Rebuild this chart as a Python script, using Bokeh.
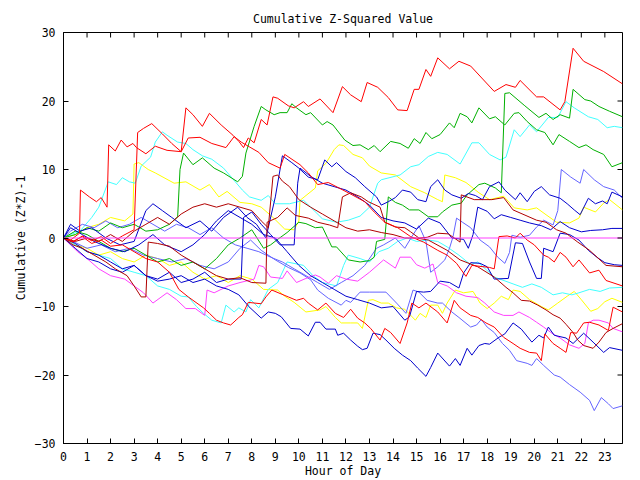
import math
from bokeh.plotting import figure
from bokeh.models import FixedTicker
from bokeh.embed import file_html
from bokeh.resources import INLINE

# ---- data: (hour, cumulative value) vertices ----
hour_ticks = list(range(0, 24))
value_ticks = [-30, -20, -10, 0, 10, 20, 30]

red_top = [(0,0),(0.4,-0.6),(0.8,0.3),(1.2,-0.4),(1.6,0.2),(2.0,-0.8),(2.5,0.3),(3.0,1.2),(3.15,15.4),(3.4,16.0),(3.75,16.7),(4.2,15.2),(4.6,13.8),(5.0,12.6),(5.2,19.0),(5.5,18.0),(5.9,16.3),(6.2,18.2),(6.7,16.5),(7.2,15.0),(7.45,14.1),(7.65,13.2),(7.85,14.6),(8.1,13.9),(8.4,17.3),(8.65,16.5),(8.9,20.6),(9.1,20.4),(9.55,19.3),(9.8,19.0),(10.2,19.9),(10.4,19.2),(10.9,20.3),(11.45,18.3),(11.85,22.1),(12.2,20.9),(12.65,19.9),(12.9,22.7),(13.35,22.0),(13.8,20.5),(14.2,18.7),(14.6,18.6),(14.9,21.7),(15.1,21.7),(15.4,24.6),(15.6,23.6),(15.9,26.3),(16.4,24.7),(16.8,25.8),(17.3,25.1),(18.3,21.4),(18.8,22.4),(19.2,22.0),(19.4,23.0),(20.1,20.6),(20.4,20.6),(21.1,18.7),(21.3,19.9),(21.65,27.7),(22.1,25.8),(22.95,24.3),(23.75,22.5)]

red_mid = [(0,0),(0.3,-0.3),(0.68,0.7),(0.72,7.0),(1.1,6.0),(1.4,5.3),(1.6,5.9),(1.85,4.5),(1.92,13.6),(2.2,12.7),(2.45,14.3),(2.7,13.3),(2.95,13.8),(3.1,13.2),(3.5,12.3),(3.9,13.4),(4.4,12.8),(5.0,12.6),(5.3,14.6),(5.8,14.7),(6.3,13.8),(6.9,13.2),(7.25,14.8),(7.55,14.0),(7.9,13.3),(8.3,12.5),(8.7,11.0),(9.2,10.2),(9.4,12.2),(10.05,10.7),(10.4,9.5),(10.8,7.8),(11.25,8.1),(12.1,6.6),(12.8,5.3),(13.2,3.8),(13.65,2.3),(14.2,1.5),(14.75,0.2),(15.3,-0.6),(15.5,-1.0),(15.9,-1.8),(16.3,-2.5),(16.7,-3.7),(17.1,-5.6),(17.35,-4.0),(18.1,-4.3),(18.3,-4.5),(18.5,0.2),(18.85,0.3),(19.2,0.0),(19.4,0.7),(19.7,-0.3),(20.0,-1.0),(20.4,-2.5),(20.6,-2.8),(20.85,-3.5),(21.1,-2.1),(21.35,-2.8),(21.65,-4.2),(21.9,-3.2),(22.35,-5.1),(22.75,-4.7),(23.05,-6.2),(23.75,-7.0)]

red_low = [(0,0),(0.4,-0.5),(0.8,0.2),(1.2,-0.8),(1.6,-0.3),(2.0,-1.2),(2.5,-1.0),(3.0,-2.0),(3.5,-3.0),(4.0,-3.5),(4.5,-5.0),(4.9,-7.5),(5.3,-8.6),(5.95,-10.2),(6.2,-11.0),(6.5,-12.0),(6.8,-12.4),(7.1,-12.7),(7.2,-12.4),(7.45,-11.6),(7.6,-11.2),(7.85,-9.4),(8.4,-9.6),(8.6,-8.6),(8.85,-7.6),(9.55,-8.6),(9.9,-9.1),(10.2,-8.8),(10.4,-9.5),(10.8,-10.5),(11.15,-9.5),(11.55,-11.0),(11.9,-11.6),(12.2,-10.4),(12.5,-11.7),(12.8,-12.4),(13.05,-13.2),(13.45,-14.9),(13.65,-13.2),(13.9,-13.8),(14.3,-15.4),(14.6,-12.4),(14.8,-9.5),(15.1,-10.2),(15.4,-9.5),(15.9,-10.8),(16.3,-12.4),(16.6,-9.1),(16.85,-10.2),(17.3,-11.3),(17.6,-11.6),(17.95,-12.4),(18.3,-13.0),(18.7,-14.5),(19.1,-15.4),(19.4,-16.1),(19.8,-16.7),(20.1,-16.8),(20.3,-17.9),(20.45,-14.0),(20.8,-15.4),(21.1,-16.1),(21.35,-16.7),(21.55,-13.8),(21.8,-13.9),(22.1,-12.4),(22.35,-12.3),(22.75,-12.7),(23.15,-13.5),(23.35,-10.1),(23.75,-10.8)]

green_a = [(0,0),(0.5,0.5),(1.0,1.5),(1.5,1.0),(2.0,2.2),(2.5,1.5),(3.0,2.0),(3.5,1.0),(4.0,1.2),(4.5,2.0),(4.85,3.1),(4.95,10.0),(5.1,12.4),(5.5,10.7),(5.9,11.7),(6.4,10.2),(6.8,9.5),(7.4,8.2),(7.6,9.0),(7.75,12.4),(8.1,16.3),(8.4,19.2),(8.6,18.7),(8.95,18.0),(9.2,18.3),(9.5,18.3),(9.7,19.6),(9.9,19.0),(10.3,18.0),(10.5,18.3),(11.0,16.5),(11.2,17.0),(11.45,16.5),(11.95,14.3),(12.3,13.5),(12.6,13.6),(12.95,12.9),(13.2,13.5),(13.45,12.6),(13.9,14.1),(14.3,13.8),(14.65,13.1),(14.9,14.5),(15.15,13.8),(15.4,15.4),(15.65,14.5),(16.0,15.1),(16.4,16.8),(16.6,16.1),(16.85,18.2),(17.15,17.7),(17.35,16.8),(17.65,19.0),(18.1,17.4),(18.35,17.7),(18.75,16.5),(19.15,18.2),(19.35,18.3),(19.7,17.0),(20.1,15.8),(20.45,15.4),(20.8,13.6),(21.05,15.1),(21.5,14.1),(21.9,13.2),(22.2,13.6),(22.5,12.9),(22.95,12.2),(23.3,10.4),(23.75,11.0)]

green_b = [(0,0),(0.5,1.0),(1.0,0.5),(1.5,-0.5),(2.0,-1.5),(2.5,-2.0),(3.0,-1.5),(3.5,-2.5),(4.0,-3.5),(4.5,-3.0),(5.0,-4.0),(5.5,-3.5),(6.0,-4.5),(6.5,-3.0),(7.0,-1.0),(7.5,0.0),(8.0,1.2),(8.5,-1.5),(8.8,-1.0),(9.1,-0.2),(9.5,0.8),(10.0,2.3),(10.3,2.1),(10.7,1.5),(11.0,1.6),(11.4,-1.3),(11.6,-1.3),(12.1,-3.2),(12.6,-3.5),(13.0,-3.3),(13.2,-2.8),(13.3,-0.5),(13.65,-0.2),(13.8,6.0),(14.1,5.2),(14.4,4.8),(14.7,4.1),(15.1,4.1),(15.5,3.1),(15.9,3.1),(16.1,3.8),(16.5,4.8),(16.9,5.1),(17.15,6.3),(17.65,7.8),(17.9,8.0),(18.35,7.3),(18.6,6.6),(18.75,21.1),(18.95,21.2),(19.6,19.3),(20.2,17.6),(20.5,18.2),(20.8,17.3),(21.1,18.0),(21.5,17.5),(21.65,21.7),(22.15,20.2),(22.4,20.0),(22.75,19.2),(23.2,18.5),(23.75,17.7)]

cyan_a = [(0,0),(0.3,0.5),(0.7,1.0),(1.2,3.0),(1.5,4.5),(1.9,8.2),(2.25,7.8),(2.5,8.8),(2.8,8.2),(3.05,8.0),(3.3,10.5),(3.7,11.8),(3.9,14.0),(4.2,15.5),(4.4,15.0),(4.85,14.0),(5.2,13.8),(5.5,12.9),(5.9,12.0),(6.3,11.5),(6.8,10.2),(7.3,8.2),(7.6,7.0),(7.9,6.0),(8.4,5.5),(8.7,6.2),(9.0,5.0),(9.6,5.0),(10.2,5.5),(10.5,4.5),(11.0,2.8),(11.6,2.3),(12.1,2.6),(12.6,3.2),(13.0,4.5),(13.35,8.0),(13.5,8.5),(14.3,9.2),(14.75,10.4),(15.1,10.7),(15.5,11.9),(15.9,12.5),(16.3,12.2),(16.85,10.8),(17.35,13.9),(17.65,13.9),(18.1,12.2),(18.55,11.4),(18.8,11.8),(19.15,15.8),(19.4,14.8),(19.8,16.5),(20.1,15.5),(20.6,17.6),(21.0,17.6),(21.35,19.9),(21.7,19.0),(22.3,17.7),(22.7,17.3),(23.1,16.1),(23.4,16.3),(23.75,16.1)]

cyan_b = [(0,0),(0.5,-1.0),(1.0,-2.0),(1.5,-2.5),(2.0,-3.0),(2.5,-4.5),(3.0,-5.0),(3.5,-5.5),(4.0,-7.0),(4.5,-7.5),(5.0,-8.5),(5.3,-8.6),(5.65,-10.0),(5.95,-11.0),(6.3,-12.0),(6.7,-12.4),(6.9,-9.8),(7.25,-10.8),(7.45,-10.2),(7.75,-10.8),(7.95,-9.0),(8.3,-10.2),(8.7,-7.5),(9.1,-6.5),(9.5,-3.5),(10.2,-4.0),(10.6,-5.5),(11.0,-6.5),(11.6,-7.0),(11.9,-4.0),(12.1,-2.5),(12.6,-3.0),(13.0,-3.5),(13.4,-2.0),(13.8,-1.5),(14.2,-0.5),(14.6,0.0),(15.0,-0.5),(15.5,-0.3),(15.9,-0.5),(16.3,-1.3),(16.8,-2.5),(17.3,-3.9),(17.6,-3.5),(18.3,-5.7),(19.1,-6.7),(19.5,-7.2),(19.9,-6.7),(20.3,-7.2),(20.8,-8.3),(21.2,-8.0),(21.6,-8.3),(21.9,-8.0),(22.35,-7.5),(22.8,-7.8),(23.2,-7.3),(23.75,-7.2)]

yellow_a = [(0,0),(0.5,0.5),(1.0,1.5),(1.5,2.0),(2.0,3.0),(2.6,2.5),(2.95,3.5),(3.0,10.8),(3.2,11.0),(3.6,10.0),(3.9,9.5),(4.7,8.0),(5.2,8.2),(5.8,7.0),(6.2,7.8),(6.6,6.0),(6.95,6.8),(7.5,5.2),(8.0,5.0),(8.4,4.5),(8.9,3.0),(9.4,1.3),(9.8,1.2),(10.0,2.5),(10.05,5.5),(10.7,7.3),(10.8,9.8),(11.15,10.9),(11.5,12.9),(11.7,13.6),(11.9,13.5),(12.3,12.2),(12.7,11.7),(13.0,10.5),(13.5,9.5),(14.1,9.2),(14.75,7.5),(15.35,6.6),(15.9,5.6),(16.1,5.3),(16.2,9.2),(16.65,8.8),(17.1,8.1),(17.65,6.6),(18.1,5.6),(18.7,6.1),(19.15,4.4),(19.7,4.1),(20.1,4.4),(20.5,3.4),(20.95,2.3),(21.5,2.2),(21.9,2.9),(22.1,4.5),(22.6,3.8),(22.95,5.1),(23.2,5.6),(23.75,4.1)]

yellow_b = [(0,0),(0.5,-1.0),(1.0,-1.5),(1.5,-2.5),(2.0,-2.0),(2.5,-3.0),(3.0,-3.5),(3.5,-2.5),(4.0,-3.0),(4.5,-4.0),(5.0,-3.5),(5.5,-5.0),(6.0,-6.0),(6.5,-5.5),(7.0,-6.5),(7.5,-5.5),(8.0,-6.0),(8.5,-7.5),(9.1,-7.6),(9.4,-8.5),(9.8,-9.4),(10.3,-10.8),(10.9,-10.5),(11.15,-10.0),(11.55,-11.6),(11.8,-12.4),(12.2,-12.4),(12.5,-12.4),(12.7,-13.2),(12.95,-9.1),(13.15,-9.0),(13.5,-9.5),(13.8,-9.5),(14.15,-10.2),(14.5,-10.4),(14.95,-12.0),(15.15,-11.0),(15.4,-11.6),(15.6,-9.8),(15.9,-9.8),(16.1,-11.0),(16.3,-9.5),(16.65,-7.6),(17.0,-8.0),(17.4,-7.8),(17.7,-9.5),(18.0,-10.3),(18.3,-9.5),(18.6,-8.5),(18.9,-9.0),(19.1,-7.6),(19.4,-7.8),(19.8,-9.0),(20.3,-10.0),(20.6,-10.5),(21.0,-9.5),(21.4,-8.5),(21.7,-7.8),(22.0,-9.0),(22.4,-10.7),(22.7,-10.3),(23.0,-9.3),(23.3,-8.8),(23.75,-9.4)]

blue_a = [(0,0),(0.3,2.0),(0.7,1.0),(1.2,1.5),(1.8,0.0),(2.4,-1.0),(3.0,-0.5),(3.5,4.0),(3.8,5.0),(4.2,4.0),(4.6,3.0),(5.2,1.5),(5.8,2.5),(6.3,1.0),(6.8,3.0),(7.4,4.5),(7.8,3.0),(8.2,2.0),(8.6,0.0),(9.0,6.0),(9.3,12.0),(9.7,11.0),(10.0,10.2),(10.4,8.9),(10.8,8.5),(11.1,11.4),(11.4,10.4),(11.6,11.0),(12.0,9.7),(12.4,8.8),(12.8,7.5),(13.3,6.0),(13.5,4.8),(13.8,5.3),(14.1,5.9),(14.4,7.0),(14.75,6.7),(15.05,5.6),(15.4,5.3),(15.6,7.5),(15.9,8.5),(16.2,7.0),(16.5,6.3),(16.9,5.8),(17.2,6.5),(17.5,6.2),(17.8,5.6),(18.1,7.5),(18.5,8.2),(18.75,7.0),(19.2,5.6),(19.4,6.6),(19.7,5.3),(20.0,6.8),(20.3,7.5),(20.65,6.3),(21.1,5.8),(21.4,5.0),(21.7,4.1),(21.95,3.4),(22.3,5.8),(22.6,5.0),(22.9,5.4),(23.1,5.0),(23.3,6.7),(23.75,6.0)]

blue_b = [(0,0),(0.5,-1.5),(1.0,-3.0),(1.5,-3.5),(2.0,-4.5),(2.5,-5.0),(3.0,-4.0),(3.5,-5.5),(4.0,-6.0),(4.5,-5.0),(5.0,-6.5),(5.5,-6.0),(6.0,-5.0),(6.5,-6.5),(7.0,-6.0),(7.55,-6.0),(7.65,3.0),(8.0,3.8),(8.4,2.0),(8.8,0.5),(9.2,-1.0),(9.8,-1.0),(9.95,8.0),(10.05,10.2),(10.5,9.0),(11.0,8.0),(11.5,7.5),(12.0,7.0),(12.5,6.0),(13.0,4.8),(13.5,3.0),(14.0,2.5),(14.5,2.2),(15.0,1.3),(15.5,2.9),(16.0,2.2),(16.5,0.0),(17.0,-0.2),(17.2,-1.5),(17.4,0.5),(17.6,4.5),(18.0,3.9),(18.3,2.8),(18.6,3.4),(19.0,3.0),(19.4,2.6),(19.8,2.2),(20.3,1.8),(20.7,1.2),(21.1,2.4),(21.5,1.5),(22.0,0.9),(22.4,1.1),(22.9,1.2),(23.3,1.4),(23.75,1.4)]

blue_c = [(0,0),(0.3,1.5),(0.8,0.5),(1.3,-0.5),(2.0,-1.5),(2.6,-2.0),(3.2,-1.0),(3.8,0.5),(4.3,-1.0),(5.0,-2.0),(5.5,-1.0),(6.0,0.5),(6.5,2.5),(7.0,4.0),(7.5,3.0),(8.0,2.0),(8.5,0.5),(9.0,0.0),(9.5,-2.0),(10.0,-4.0),(10.5,-5.5),(11.0,-6.5),(11.5,-7.5),(12.0,-8.5),(12.5,-9.0),(13.0,-9.5),(13.5,-10.2),(14.0,-10.0),(14.5,-12.0),(14.7,-11.5),(15.0,-7.8),(15.3,-7.9),(15.6,-7.8),(16.0,-6.3),(16.4,-6.5),(16.8,-7.3),(17.0,-5.1),(17.3,-3.6),(17.7,-3.7),(18.0,-4.2),(18.3,-6.0),(18.9,-5.9),(19.2,-0.7),(19.5,-0.8),(19.8,-3.5),(20.1,-5.9),(20.3,-5.9),(20.4,-1.5),(20.8,-2.0),(21.1,0.7),(21.5,0.5),(21.9,-0.3),(22.3,-1.8),(22.7,-2.9),(23.0,-3.6),(23.4,-3.9),(23.75,-4.0)]

blue_d = [(0,0),(0.5,-0.8),(1.0,-2.0),(1.5,-2.5),(2.0,-3.5),(2.5,-4.5),(3.0,-4.0),(3.5,-5.5),(4.0,-6.3),(4.5,-6.0),(5.0,-5.5),(5.5,-6.5),(6.0,-6.0),(6.5,-7.0),(7.0,-7.5),(7.45,-8.3),(7.87,-10.0),(8.4,-11.7),(8.7,-10.8),(9.0,-11.0),(9.25,-11.5),(9.65,-13.2),(10.05,-13.3),(10.4,-14.3),(10.7,-12.3),(10.9,-12.3),(11.15,-13.3),(11.55,-13.3),(11.65,-14.2),(11.9,-13.9),(12.2,-14.9),(12.5,-15.8),(12.7,-16.3),(12.9,-16.1),(13.15,-13.9),(13.45,-14.1),(13.7,-14.9),(14.05,-16.1),(14.4,-17.1),(14.75,-17.9),(15.05,-19.0),(15.4,-20.2),(15.6,-18.9),(15.9,-16.8),(16.4,-18.7),(16.65,-17.6),(16.85,-18.6),(17.15,-16.1),(17.35,-17.1),(17.65,-15.7),(17.9,-15.4),(18.1,-15.5),(18.5,-14.5),(18.75,-14.0),(19.1,-12.4),(19.45,-13.3),(19.9,-15.2),(20.2,-14.2),(20.4,-14.6),(20.6,-13.0),(20.85,-14.2),(21.35,-14.6),(21.65,-15.4),(22.1,-13.9),(22.5,-15.2),(22.95,-16.7),(23.2,-16.0),(23.75,-16.4)]

lblue_a = [(0,0),(0.4,-0.5),(1.0,-1.5),(1.6,-1.0),(2.2,-2.0),(2.8,-1.5),(3.4,-2.5),(4.0,-3.0),(4.6,-3.5),(5.2,-3.0),(5.8,-4.0),(6.4,-4.5),(7.0,-3.5),(7.5,-1.5),(7.95,-0.3),(8.4,-1.8),(9.0,-3.2),(9.55,-4.3),(10.05,-5.1),(10.5,-6.1),(10.8,-7.6),(11.25,-8.8),(11.8,-9.8),(12.0,-9.1),(12.2,-9.4),(12.6,-7.9),(13.0,-7.9),(13.7,-7.9),(14.15,-9.5),(14.55,-11.0),(14.85,-7.6),(15.1,-7.9),(15.45,-9.1),(15.9,-9.5),(16.1,-9.5),(16.5,-10.8),(16.8,-11.6),(17.3,-13.0),(17.55,-12.7),(17.75,-11.9),(18.0,-13.0),(18.3,-13.8),(18.65,-15.4),(18.95,-16.4),(19.25,-17.9),(19.7,-18.3),(19.9,-18.6),(20.1,-17.6),(20.4,-18.6),(20.85,-20.0),(21.1,-20.3),(21.5,-21.4),(21.95,-22.5),(22.35,-23.7),(22.55,-25.2),(22.85,-23.3),(23.15,-24.2),(23.35,-24.9),(23.75,-24.5)]

lblue_b = [(0,0),(0.3,1.0),(0.8,2.0),(1.3,1.5),(1.8,2.5),(2.3,1.5),(2.8,2.0),(3.3,3.0),(3.8,2.0),(4.3,1.0),(4.8,2.0),(5.3,1.5),(5.8,0.5),(6.3,1.5),(6.8,0.0),(7.3,-1.0),(7.8,-1.5),(8.3,-2.0),(8.8,-2.8),(9.3,-3.5),(9.8,-4.5),(10.3,-5.5),(10.8,-6.5),(11.3,-7.5),(11.8,-6.5),(12.3,-5.5),(12.8,-4.0),(13.3,-1.5),(13.6,-1.0),(14.1,0.0),(14.5,-1.5),(14.8,0.2),(15.1,1.8),(15.4,-0.5),(15.6,-5.0),(15.9,-4.2),(16.2,-3.2),(16.4,-1.5),(16.55,0.2),(16.7,2.9),(16.95,2.3),(17.3,1.5),(17.7,-0.3),(18.1,-1.3),(18.45,-2.8),(18.75,-3.7),(18.95,-2.1),(19.05,0.4),(19.4,0.1),(19.8,0.4),(20.1,1.6),(20.4,2.6),(20.8,1.9),(21.0,4.0),(21.15,10.0),(21.55,8.9),(21.95,8.0),(22.1,10.0),(22.55,8.5),(22.95,7.5),(23.4,7.0),(23.75,5.8)]

dred_a = [(0,0),(0.4,-1.0),(0.8,-1.5),(1.3,-2.5),(1.8,-3.5),(2.2,-4.5),(2.7,-5.5),(3.0,-7.0),(3.3,-8.6),(3.5,-8.6),(3.6,-0.6),(4.0,-0.8),(4.5,-1.2),(5.0,-2.5),(5.5,-3.5),(6.0,-4.5),(6.5,-5.5),(7.0,-6.0),(7.5,-5.8),(8.0,-6.5),(8.6,-6.6),(8.65,2.3),(9.1,3.0),(9.5,4.4),(9.85,3.3),(10.4,2.9),(10.8,2.3),(11.3,1.9),(11.65,1.5),(11.85,6.0),(12.2,6.6),(12.65,6.0),(12.95,5.3),(13.45,4.5),(13.65,2.3),(14.1,1.6),(14.5,1.5),(14.75,0.9),(15.1,0.0),(15.45,0.1),(15.9,0.7),(16.35,0.6),(16.85,-0.6),(16.9,6.3),(17.45,5.6),(18.2,5.6),(18.7,5.9),(19.1,4.1),(20.1,2.6),(20.5,2.3),(20.95,1.2),(21.35,0.7),(21.85,-0.6),(22.35,-1.8),(23.05,-4.0),(23.75,-4.2)]

dred_b = [(0,0),(0.5,-0.5),(1.0,0.0),(1.5,-0.5),(2.0,0.5),(2.5,-0.5),(3.0,1.0),(3.5,2.0),(4.0,3.0),(4.5,2.0),(5.0,3.5),(5.5,4.5),(6.0,5.0),(6.5,4.5),(7.0,5.0),(7.5,4.5),(8.0,4.0),(8.4,2.5),(8.7,1.5),(8.9,9.0),(9.1,9.2),(9.3,8.3),(9.6,7.5),(10.0,5.6),(10.5,4.5),(11.0,3.5),(11.5,2.5),(12.0,1.5),(12.5,1.0),(13.0,1.2),(13.5,0.8),(14.0,0.5),(14.5,0.0),(15.0,0.0),(15.5,-0.3),(16.3,-1.8),(16.85,-3.2),(17.6,-4.2),(18.3,-5.7),(18.8,-7.2),(19.1,-8.0),(19.45,-9.1),(19.8,-9.2),(20.15,-9.8),(20.5,-10.5),(20.8,-11.2),(21.1,-11.7),(21.35,-12.6),(21.65,-13.8),(21.85,-14.9),(22.1,-15.7),(22.5,-16.1),(22.75,-15.2),(23.05,-13.8),(23.35,-13.2),(23.75,-12.5)]

magenta_a = [(0,0),(0.3,-1.0),(0.6,-2.0),(1.0,-3.0),(1.5,-4.5),(2.0,-5.5),(2.6,-6.0),(3.0,-7.0),(3.4,-8.0),(3.8,-9.5),(4.4,-8.0),(4.8,-9.0),(5.2,-10.3),(5.6,-10.3),(6.0,-11.3),(6.1,-7.6),(6.4,-8.0),(7.0,-7.0),(7.5,-6.5),(8.1,-6.0),(8.3,-4.0),(8.5,-4.2),(8.8,-5.7),(9.3,-5.9),(9.5,-4.8),(9.9,-6.5),(10.3,-5.9),(10.7,-5.4),(10.9,-5.7),(11.25,-6.6),(11.6,-5.5),(12.0,-6.0),(12.5,-6.3),(13.0,-5.0),(13.6,-3.2),(14.1,-4.4),(14.3,-2.8),(14.75,-2.8),(15.0,-3.9),(15.35,-4.4),(15.7,-3.8),(15.9,-6.5),(16.3,-7.0),(16.7,-8.0),(17.1,-8.5),(17.6,-8.7),(17.9,-9.5),(18.3,-10.8),(18.7,-11.3),(19.1,-11.3),(19.35,-10.8),(19.8,-11.6),(20.1,-12.3),(20.4,-13.0),(20.75,-13.9),(21.1,-14.6),(21.5,-15.6),(21.9,-16.1),(22.15,-15.4),(22.3,-12.4),(22.5,-12.0),(22.75,-12.0),(23.15,-12.4),(23.35,-13.2),(23.75,-13.7)]

zero_line = [(0,0),(23.75,0)]

RED, DRED, GREEN, BLUE, LBLUE = "#ff0000", "#b00000", "#00b000", "#0000cc", "#6464ff"
CYAN, YELLOW, MAGENTA = "#40ffff", "#ffff00", "#ff40ff"

series = [
    (yellow_a, YELLOW), (yellow_b, YELLOW), (cyan_a, CYAN), (cyan_b, CYAN),
    (lblue_a, LBLUE), (lblue_b, LBLUE), (magenta_a, MAGENTA),
    (green_a, GREEN), (green_b, GREEN), (blue_a, BLUE), (blue_b, BLUE),
    (blue_c, BLUE), (blue_d, BLUE), (dred_a, DRED), (dred_b, DRED),
    (red_low, RED), (red_mid, RED), (red_top, RED), (zero_line, MAGENTA),
]

FONT = "DejaVu Sans Mono"
FS = "11.5px"

p = figure(width=640, height=480, output_backend="svg", toolbar_location=None,
           x_range=(0, 23.75), y_range=(-30, 30),
           min_border_left=63, min_border_right=18, min_border_top=32, min_border_bottom=36,
           background_fill_color="white", border_fill_color="white",
           title="Cumulative Z-Squared Value")
p.title.align = "center"
p.title.text_font = FONT
p.title.text_font_size = FS
p.title.text_font_style = "normal"
p.title.text_color = "black"
p.title.standoff = 13
p.outline_line_color = "black"
p.outline_line_width = 1
p.xgrid.visible = False
p.ygrid.visible = False

for pts, col in series:
    hs = [a for a, b in pts]
    vs = [b for a, b in pts]
    p.line(hs, vs, line_color=col, line_width=1)

for ax in (p.xaxis[0], p.yaxis[0]):
    ax.major_tick_in = 5
    ax.major_tick_out = 0
    ax.minor_tick_in = 0
    ax.minor_tick_out = 0
    ax.axis_line_color = "black"
    ax.major_tick_line_color = "black"
    ax.major_label_text_font = FONT
    ax.major_label_text_font_size = FS
    ax.major_label_text_color = "black"
    ax.major_label_standoff = 8
    ax.axis_label_text_font = FONT
    ax.axis_label_text_font_size = FS
    ax.axis_label_text_font_style = "normal"
    ax.axis_label_text_color = "black"

p.xaxis.ticker = FixedTicker(ticks=hour_ticks)
p.yaxis.ticker = FixedTicker(ticks=value_ticks)
p.xaxis.axis_label = "Hour of Day"
p.xaxis.axis_label_standoff = 0
p.yaxis.axis_label = "Cumulative (Z*Z)-1"
p.yaxis.axis_label_standoff = 4

# mirrored inward ticks on the top and right edges (5 px long)
p.ray(x=hour_ticks, y=[value_ticks[-1]] * len(hour_ticks), length=5, length_units="screen",
      angle=-math.pi / 2, line_color="black", line_width=1)
p.ray(x=[23.75] * len(value_ticks), y=value_ticks, length=5, length_units="screen",
      angle=math.pi, line_color="black", line_width=1)

open("out.html", "w").write(file_html(p, INLINE))
